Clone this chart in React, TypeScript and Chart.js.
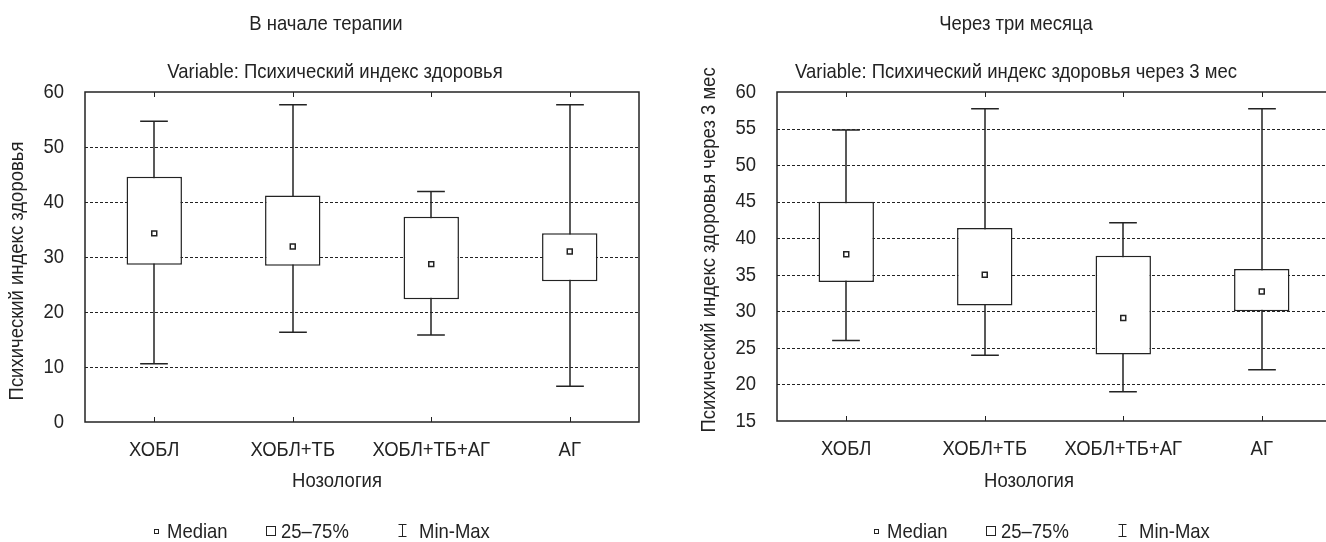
import React, { useEffect, useRef } from "react";
import { Chart, registerables } from "chart.js";

Chart.register(...registerables);

// ---------- data ----------
const categories = ["ХОБЛ", "ХОБЛ+ТБ", "ХОБЛ+ТБ+АГ", "АГ"];

// Panel 1: В начале терапии
const minBefore = [10.6, 16.3, 15.8, 6.5];
const q1Before = [28.6, 28.4, 22.3, 25.6];
const medianBefore = [34.3, 31.9, 28.7, 31.0];
const q3Before = [44.6, 41.2, 37.3, 34.3];
const maxBefore = [54.7, 57.7, 41.9, 57.7];
const yTicksBefore = [0, 10, 20, 30, 40, 50, 60];

// Panel 2: Через три месяца
const minAfter = [26.0, 24.0, 19.0, 22.0];
const q1After = [34.0, 30.8, 24.1, 30.0];
const medianAfter = [37.8, 35.0, 29.1, 32.7];
const q3After = [45.0, 41.4, 37.6, 35.8];
const maxAfter = [54.8, 57.7, 42.1, 57.7];
const yTicksAfter = [15, 20, 25, 30, 35, 40, 45, 50, 55, 60];

const legendLabels = ["Median", "25–75%", "Min-Max"];

// ---------- style ----------
const FONT = "'Liberation Sans', Arial, sans-serif";
const INK = "#232323";
const FS = 21;
const SQUEEZE = 0.88;

type PanelCfg = {
  title: string;
  subtitle: string;
  yTitle: string;
  xTitle: string;
  mins: number[];
  q1: number[];
  med: number[];
  q3: number[];
  maxs: number[];
  yTicks: number[];
  titleX: number;
  subtitleX: number;
  yTitleCenter: number;
  legendShift: number;
  bottomPad: number;
};

const panels: PanelCfg[] = [
  {
    title: "В начале терапии",
    subtitle: "Variable: Психический индекс здоровья",
    yTitle: "Психический индекс здоровья",
    xTitle: "Нозология",
    mins: minBefore,
    q1: q1Before,
    med: medianBefore,
    q3: q3Before,
    maxs: maxBefore,
    yTicks: yTicksBefore,
    titleX: 326,
    subtitleX: 335,
    yTitleCenter: 271,
    legendShift: 0,
    bottomPad: 60,
  },
  {
    title: "Через три месяца",
    subtitle: "Variable: Психический индекс здоровья через 3 мес",
    yTitle: "Психический индекс здоровья через 3 мес",
    xTitle: "Нозология",
    mins: minAfter,
    q1: q1After,
    med: medianAfter,
    q3: q3After,
    maxs: maxAfter,
    yTicks: yTicksAfter,
    titleX: 324,
    subtitleX: 324,
    yTitleCenter: 250,
    legendShift: 28,
    bottomPad: 61,
  },
];

// condensed lettering: every text drawn on this canvas is squeezed horizontally
function condense(ctx: any) {
  if (ctx.__condensed) return;
  const orig = ctx.fillText;
  ctx.fillText = function (text: string, x: number, y: number, maxWidth?: number) {
    const w = this.measureText(text).width * SQUEEZE;
    const mw = typeof maxWidth === "number" && isFinite(maxWidth) ? Math.min(maxWidth, w) : w;
    orig.call(this, text, x, y, Math.max(mw, 0.01));
  };
  ctx.__condensed = true;
}

function makePlugin(cfg: PanelCfg) {
  return {
    id: "panelDecor",
    beforeInit(chart: any) {
      condense(chart.ctx);
    },
    beforeDraw(chart: any) {
      condense(chart.ctx);
    },
    beforeDatasetsDraw(chart: any) {
      const { ctx, chartArea: a, scales } = chart;
      const x = scales.x;
      const y = scales.y;
      ctx.save();
      // dashed grid lines
      ctx.strokeStyle = INK;
      ctx.lineWidth = 1;
      ctx.setLineDash([3, 2]);
      y.ticks.forEach((t: any) => {
        if (t.value <= y.min || t.value >= y.max) return;
        const py = Math.round(y.getPixelForValue(t.value)) + 0.5;
        ctx.beginPath();
        ctx.moveTo(a.left, py);
        ctx.lineTo(a.right, py);
        ctx.stroke();
      });
      ctx.setLineDash([]);
      // whiskers
      const step = x.getPixelForValue(1) - x.getPixelForValue(0);
      const cap = step * 0.2;
      ctx.lineWidth = 1.5;
      cfg.mins.forEach((mn, i) => {
        const px = Math.round(x.getPixelForValue(i));
        const yMin = y.getPixelForValue(mn);
        const yMax = y.getPixelForValue(cfg.maxs[i]);
        ctx.beginPath();
        ctx.moveTo(px, yMin);
        ctx.lineTo(px, yMax);
        ctx.moveTo(px - cap / 2, yMin);
        ctx.lineTo(px + cap / 2, yMin);
        ctx.moveTo(px - cap / 2, yMax);
        ctx.lineTo(px + cap / 2, yMax);
        ctx.stroke();
      });
      ctx.restore();
    },
    afterDatasetsDraw(chart: any) {
      const { ctx, chartArea: a, scales } = chart;
      const x = scales.x;
      ctx.save();
      ctx.strokeStyle = INK;
      ctx.lineWidth = 1.5;
      ctx.strokeRect(a.left, a.top, a.right - a.left, a.bottom - a.top);
      ctx.lineWidth = 1;
      categories.forEach((_, i) => {
        const px = Math.round(x.getPixelForValue(i)) + 0.5;
        ctx.beginPath();
        ctx.moveTo(px, a.top);
        ctx.lineTo(px, a.top + 5);
        ctx.moveTo(px, a.bottom);
        ctx.lineTo(px, a.bottom - 5);
        ctx.stroke();
      });
      ctx.restore();
    },
    afterDraw(chart: any) {
      const { ctx } = chart;
      ctx.save();
      ctx.fillStyle = INK;
      ctx.strokeStyle = INK;
      ctx.font = `${FS}px ${FONT}`;
      ctx.textBaseline = "alphabetic";
      ctx.textAlign = "center";
      ctx.fillText(cfg.title, cfg.titleX, 30);
      ctx.fillText(cfg.subtitle, cfg.subtitleX, 78);
      ctx.fillText(cfg.xTitle, 337, 487);
      // y title
      ctx.save();
      ctx.translate(17, cfg.yTitleCenter);
      ctx.rotate(-Math.PI / 2);
      ctx.textBaseline = "middle";
      ctx.fillText(cfg.yTitle, 0, 0);
      ctx.restore();
      // legend
      const s = cfg.legendShift;
      const by = 538;
      ctx.textAlign = "left";
      ctx.lineWidth = 1;
      ctx.strokeRect(154.5 + s, 529.5, 4, 4);
      ctx.fillText(legendLabels[0], 167 + s, by);
      ctx.strokeRect(266.5 + s, 526.5, 9, 9);
      ctx.fillText(legendLabels[1], 281 + s, by);
      const ix = 402.5 + s;
      ctx.beginPath();
      ctx.moveTo(ix, 524);
      ctx.lineTo(ix, 537);
      ctx.moveTo(ix - 4, 524.5);
      ctx.lineTo(ix + 4, 524.5);
      ctx.moveTo(ix - 4, 536.5);
      ctx.lineTo(ix + 4, 536.5);
      ctx.stroke();
      ctx.fillText(legendLabels[2], 419 + s, by);
      ctx.restore();
    },
  };
}

function Panel({ cfg, left }: { cfg: PanelCfg; left: number }) {
  const ref = useRef<HTMLCanvasElement | null>(null);
  useEffect(() => {
    if (!ref.current) return;
    const boxes = cfg.q1.map((v, i) => [v, cfg.q3[i]]);
    const yMin = cfg.yTicks[0];
    const yMax = cfg.yTicks[cfg.yTicks.length - 1];
    const step = cfg.yTicks[1] - cfg.yTicks[0];
    const chart = new Chart(ref.current, {
      type: "bar",
      data: {
        labels: categories,
        datasets: [
          {
            type: "bar",
            label: "25–75%",
            data: boxes as any,
            backgroundColor: "#ffffff",
            borderColor: INK,
            borderWidth: 1.5,
            borderSkipped: false,
            categoryPercentage: 1,
            barPercentage: 0.4,
            order: 2,
          } as any,
          {
            type: "line",
            label: "Median",
            data: cfg.med,
            showLine: false,
            pointStyle: "rect",
            pointRadius: 3.5,
            pointBackgroundColor: "#ffffff",
            pointBorderColor: INK,
            pointBorderWidth: 1.5,
            order: 1,
          } as any,
        ],
      },
      options: {
        responsive: false,
        animation: false,
        devicePixelRatio: 1,
        layout: { padding: { left: 0, right: 24, top: 92, bottom: cfg.bottomPad } },
        plugins: {
          legend: { display: false },
          tooltip: { enabled: false },
          title: { display: false },
        },
        scales: {
          x: {
            type: "category",
            offset: true,
            grid: { display: false },
            border: { display: false },
            ticks: {
              color: INK,
              font: { family: FONT, size: FS },
              padding: 8,
              maxRotation: 0,
              autoSkip: false,
            },
            afterFit: (s: any) => {
              s.height = 60;
            },
          },
          y: {
            type: "linear",
            min: yMin,
            max: yMax,
            grid: { display: false },
            border: { display: false },
            ticks: {
              stepSize: step,
              color: INK,
              font: { family: FONT, size: FS },
              padding: 13,
            },
            afterFit: (s: any) => {
              s.width = 85;
            },
          },
        },
      } as any,
      plugins: [makePlugin(cfg)],
    });
    return () => chart.destroy();
  }, [cfg]);
  return (
    <canvas
      ref={ref}
      width={663}
      height={542}
      style={{ position: "absolute", left, top: 0, width: 663, height: 542 }}
    />
  );
}

export default function App() {
  return (
    <div
      style={{
        position: "absolute",
        left: 0,
        top: 0,
        width: 1326,
        height: 542,
        overflow: "hidden",
        background: "#ffffff",
      }}
    >
      <Panel cfg={panels[0]} left={0} />
      <Panel cfg={panels[1]} left={692} />
    </div>
  );
}
